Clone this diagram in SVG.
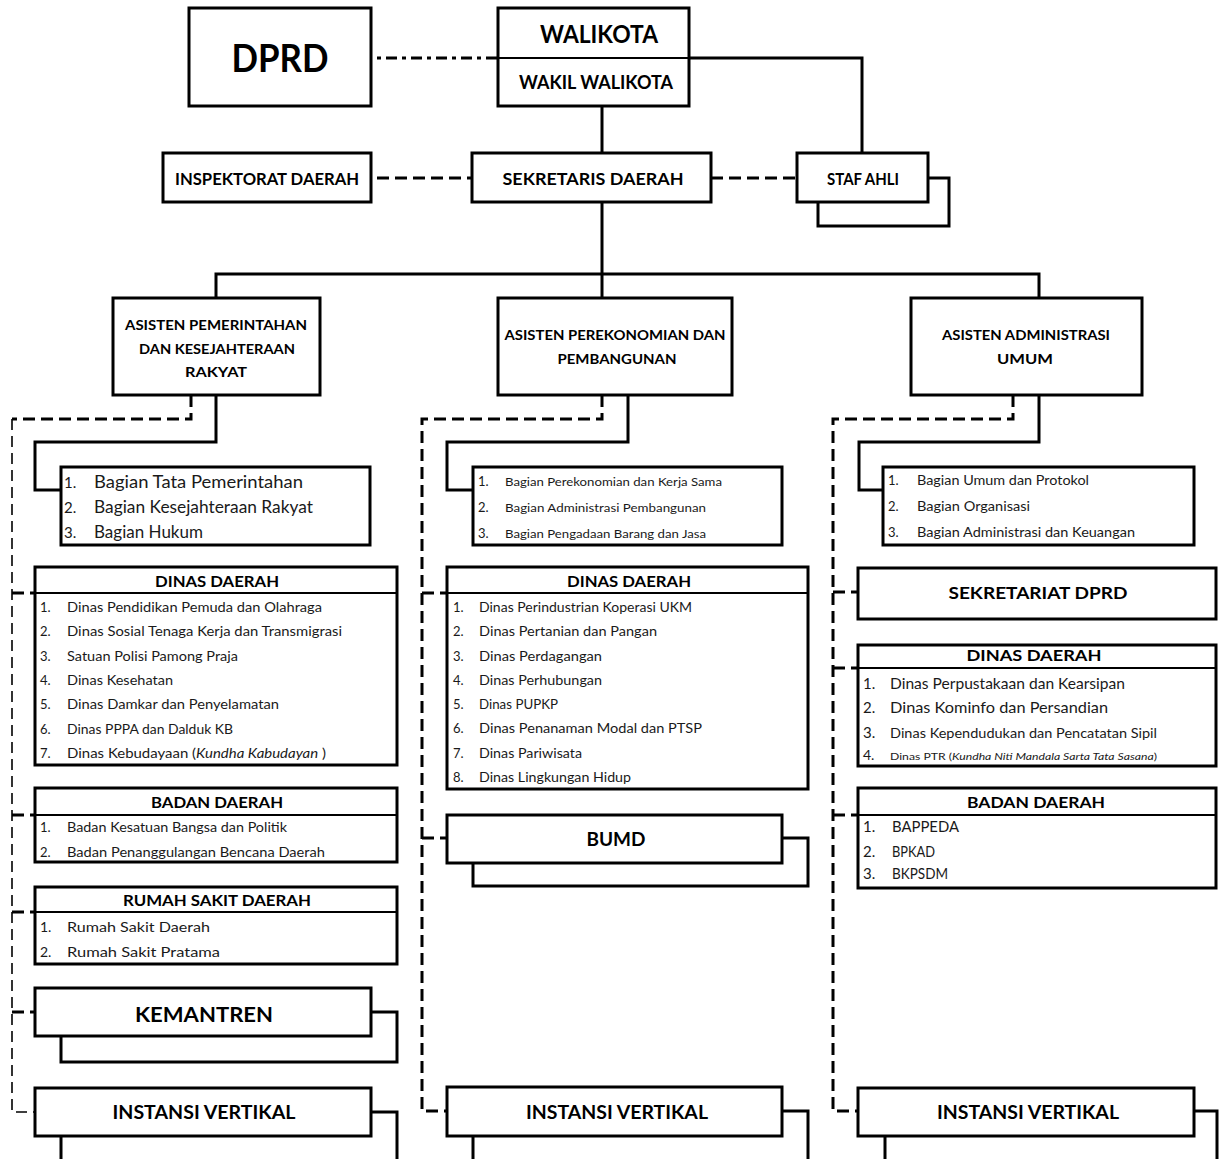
<svg xmlns="http://www.w3.org/2000/svg" width="1219" height="1159" viewBox="0 0 1219 1159">
<style>
.box{fill:#fff;stroke:#000;stroke-width:3}
.sh{fill:none;stroke:#000;stroke-width:3}
.div{stroke:#000;stroke-width:2}
.c{fill:none;stroke:#000;stroke-width:3}
.d{fill:none;stroke:#000;stroke-width:3;stroke-dasharray:12 6}
.dt{fill:none;stroke:#000;stroke-width:1.6;stroke-dasharray:11 6}
.dd{fill:none;stroke:#000;stroke-width:3;stroke-dasharray:4 5 11 5}
text{font-family:Lato,"Liberation Sans",sans-serif;fill:#000}
.b{font-weight:700;text-anchor:middle}
.r{font-weight:400;fill:#1a1a1a}
.i{font-style:italic}
</style>
<rect width="1219" height="1159" fill="#fff"/>
<g id="connectors">
<path class="dd" d="M377,58 H498"/>
<path class="c" d="M602,106 V153"/>
<path class="c" d="M689,58 H862 V153"/>
<path class="d" d="M377,178 H472"/>
<path class="d" d="M711,178 H797"/>
<path class="c" d="M602,202 V298"/>
<path class="c" d="M216,298 V274 H1039 V298"/>
<path class="c" d="M216,395 V442 H35 V490 H61"/>
<path class="d" d="M191,395 V419 H12"/>
<path class="dt" d="M12,419 V1112 H35"/>
<path class="d" d="M12,593 H35 M12,815 H35 M12,912 H35 M12,1012 H35"/>
<path class="c" d="M628,395 V442 H447 V490 H473"/>
<path class="d" d="M602,395 V419 H422 V1111 H447"/>
<path class="d" d="M422,593 H447 M422,838 H447"/>
<path class="c" d="M1039,395 V442 H859 V490 H883"/>
<path class="d" d="M1013,395 V419 H833 V1111 H858"/>
<path class="d" d="M833,592 H858 M833,668 H858 M833,815 H858"/>
</g>
<g id="dprd"><rect class="box" x="189" y="8" width="182" height="98"/><text class="b" x="280" y="72" font-size="38" textLength="97" lengthAdjust="spacingAndGlyphs">DPRD</text></g>
<g id="walikota"><rect class="box" x="498" y="8" width="191" height="98"/><line class="div" x1="498" y1="58" x2="689" y2="58"/>
<text class="b" x="599" y="43" font-size="25" textLength="118" lengthAdjust="spacingAndGlyphs">WALIKOTA</text>
<text class="b" x="596" y="89" font-size="19.5" textLength="154" lengthAdjust="spacingAndGlyphs">WAKIL WALIKOTA</text></g>
<g id="inspektorat"><rect class="box" x="163" y="153" width="208" height="49"/><text class="b" x="267" y="185" font-size="17" textLength="184" lengthAdjust="spacingAndGlyphs">INSPEKTORAT DAERAH</text></g>
<g id="sekda"><rect class="box" x="472" y="153" width="239" height="49"/><text class="b" x="593" y="185" font-size="17" textLength="181" lengthAdjust="spacingAndGlyphs">SEKRETARIS DAERAH</text></g>
<g id="stafahli"><path class="sh" d="M928,178 H949 V226 H818 V202"/><rect class="box" x="797" y="153" width="131" height="49"/><text class="b" x="863" y="185" font-size="17" textLength="72" lengthAdjust="spacingAndGlyphs">STAF AHLI</text></g>

<g id="asisten1"><rect class="box" x="113" y="298" width="207" height="97"/>
<text class="b" x="216" y="330" font-size="12.5" textLength="182" lengthAdjust="spacingAndGlyphs">ASISTEN PEMERINTAHAN</text>
<text class="b" x="217" y="354" font-size="12.5" textLength="156" lengthAdjust="spacingAndGlyphs">DAN KESEJAHTERAAN</text>
<text class="b" x="216" y="377" font-size="12.5" textLength="62" lengthAdjust="spacingAndGlyphs">RAKYAT</text></g>
<g id="asisten2"><rect class="box" x="498" y="298" width="234" height="97"/>
<text class="b" x="615" y="340" font-size="12.5" textLength="221" lengthAdjust="spacingAndGlyphs">ASISTEN PEREKONOMIAN DAN</text>
<text class="b" x="617" y="364" font-size="12.5" textLength="119" lengthAdjust="spacingAndGlyphs">PEMBANGUNAN</text></g>
<g id="asisten3"><rect class="box" x="911" y="298" width="231" height="97"/>
<text class="b" x="1026" y="340" font-size="12.5" textLength="168" lengthAdjust="spacingAndGlyphs">ASISTEN ADMINISTRASI</text>
<text class="b" x="1025" y="364" font-size="12.5" textLength="56" lengthAdjust="spacingAndGlyphs">UMUM</text></g>

<g id="bagian1"><rect class="box" x="61" y="467" width="309" height="78"/>
<text class="r" x="64" y="488" font-size="15">1.</text><text class="r" x="94" y="488" font-size="17" textLength="209" lengthAdjust="spacingAndGlyphs">Bagian Tata Pemerintahan</text>
<text class="r" x="64" y="513" font-size="15">2.</text><text class="r" x="94" y="513" font-size="17" textLength="219" lengthAdjust="spacingAndGlyphs">Bagian Kesejahteraan Rakyat</text>
<text class="r" x="64" y="538" font-size="15">3.</text><text class="r" x="94" y="538" font-size="17" textLength="109" lengthAdjust="spacingAndGlyphs">Bagian Hukum</text></g>
<g id="bagian2"><rect class="box" x="473" y="467" width="309" height="78"/>
<text class="r" x="478" y="486" font-size="13">1.</text><text class="r" x="505" y="486" font-size="11" textLength="217" lengthAdjust="spacingAndGlyphs">Bagian Perekonomian dan Kerja Sama</text>
<text class="r" x="478" y="512" font-size="13">2.</text><text class="r" x="505" y="512" font-size="11" textLength="201" lengthAdjust="spacingAndGlyphs">Bagian Administrasi Pembangunan</text>
<text class="r" x="478" y="538" font-size="13">3.</text><text class="r" x="505" y="538" font-size="11" textLength="201" lengthAdjust="spacingAndGlyphs">Bagian Pengadaan Barang dan Jasa</text></g>
<g id="bagian3"><rect class="box" x="883" y="467" width="311" height="78"/>
<text class="r" x="888" y="485" font-size="13">1.</text><text class="r" x="917" y="485" font-size="12.5" textLength="172" lengthAdjust="spacingAndGlyphs">Bagian Umum dan Protokol</text>
<text class="r" x="888" y="511" font-size="13">2.</text><text class="r" x="917" y="511" font-size="12.5" textLength="113" lengthAdjust="spacingAndGlyphs">Bagian Organisasi</text>
<text class="r" x="888" y="537" font-size="13">3.</text><text class="r" x="917" y="537" font-size="12.5" textLength="218" lengthAdjust="spacingAndGlyphs">Bagian Administrasi dan Keuangan</text></g>

<g id="dinas1"><rect class="box" x="35" y="567" width="362" height="198"/><line class="div" x1="35" y1="593" x2="397" y2="593"/>
<text class="b" x="217" y="587" font-size="14.5" textLength="124" lengthAdjust="spacingAndGlyphs">DINAS DAERAH</text>
<text class="r" x="40" y="612" font-size="13">1.</text><text class="r" x="67" y="612" font-size="13" textLength="255" lengthAdjust="spacingAndGlyphs">Dinas Pendidikan Pemuda dan Olahraga</text>
<text class="r" x="40" y="636" font-size="13">2.</text><text class="r" x="67" y="636" font-size="13" textLength="275" lengthAdjust="spacingAndGlyphs">Dinas Sosial Tenaga Kerja dan Transmigrasi</text>
<text class="r" x="40" y="661" font-size="13">3.</text><text class="r" x="67" y="661" font-size="13" textLength="171" lengthAdjust="spacingAndGlyphs">Satuan Polisi Pamong Praja</text>
<text class="r" x="40" y="685" font-size="13">4.</text><text class="r" x="67" y="685" font-size="13" textLength="106" lengthAdjust="spacingAndGlyphs">Dinas Kesehatan</text>
<text class="r" x="40" y="709" font-size="13">5.</text><text class="r" x="67" y="709" font-size="13" textLength="212" lengthAdjust="spacingAndGlyphs">Dinas Damkar dan Penyelamatan</text>
<text class="r" x="40" y="734" font-size="13">6.</text><text class="r" x="67" y="734" font-size="13" textLength="166" lengthAdjust="spacingAndGlyphs">Dinas PPPA dan Dalduk KB</text>
<text class="r" x="40" y="758" font-size="13">7.</text><text class="r" x="67" y="758" font-size="13" textLength="259" lengthAdjust="spacingAndGlyphs">Dinas Kebudayaan (<tspan class="i">Kundha Kabudayan</tspan> )</text></g>
<g id="badan1"><rect class="box" x="35" y="788" width="362" height="74"/><line class="div" x1="35" y1="815" x2="397" y2="815"/>
<text class="b" x="217" y="808" font-size="15" textLength="132" lengthAdjust="spacingAndGlyphs">BADAN DAERAH</text>
<text class="r" x="40" y="832" font-size="13">1.</text><text class="r" x="67" y="832" font-size="13" textLength="220" lengthAdjust="spacingAndGlyphs">Badan Kesatuan Bangsa dan Politik</text>
<text class="r" x="40" y="857" font-size="13">2.</text><text class="r" x="67" y="857" font-size="13" textLength="258" lengthAdjust="spacingAndGlyphs">Badan Penanggulangan Bencana Daerah</text></g>
<g id="rumahsakit"><rect class="box" x="35" y="887" width="362" height="77"/><line class="div" x1="35" y1="912" x2="397" y2="912"/>
<text class="b" x="217" y="906" font-size="15" textLength="188" lengthAdjust="spacingAndGlyphs">RUMAH SAKIT DAERAH</text>
<text class="r" x="40" y="932" font-size="14">1.</text><text class="r" x="67" y="932" font-size="14" textLength="143" lengthAdjust="spacingAndGlyphs">Rumah Sakit Daerah</text>
<text class="r" x="40" y="957" font-size="14">2.</text><text class="r" x="67" y="957" font-size="14" textLength="153" lengthAdjust="spacingAndGlyphs">Rumah Sakit Pratama</text></g>
<g id="kemantren"><path class="sh" d="M371,1012 H397 V1062 H61 V1036"/><rect class="box" x="35" y="988" width="336" height="48"/>
<text class="b" x="204" y="1022" font-size="21" textLength="138" lengthAdjust="spacingAndGlyphs">KEMANTREN</text></g>
<g id="instansi1"><path class="sh" d="M371,1112 H397 V1170 H61 V1136"/><rect class="box" x="35" y="1088" width="336" height="48"/>
<text class="b" x="204" y="1119" font-size="18" textLength="183" lengthAdjust="spacingAndGlyphs">INSTANSI VERTIKAL</text></g>

<g id="dinas2"><rect class="box" x="447" y="567" width="361" height="222"/><line class="div" x1="447" y1="593" x2="808" y2="593"/>
<text class="b" x="629" y="587" font-size="14.5" textLength="124" lengthAdjust="spacingAndGlyphs">DINAS DAERAH</text>
<text class="r" x="453" y="612" font-size="13">1.</text><text class="r" x="479" y="612" font-size="13" textLength="213" lengthAdjust="spacingAndGlyphs">Dinas Perindustrian Koperasi UKM</text>
<text class="r" x="453" y="636" font-size="13">2.</text><text class="r" x="479" y="636" font-size="13" textLength="178" lengthAdjust="spacingAndGlyphs">Dinas Pertanian dan Pangan</text>
<text class="r" x="453" y="661" font-size="13">3.</text><text class="r" x="479" y="661" font-size="13" textLength="123" lengthAdjust="spacingAndGlyphs">Dinas Perdagangan</text>
<text class="r" x="453" y="685" font-size="13">4.</text><text class="r" x="479" y="685" font-size="13" textLength="123" lengthAdjust="spacingAndGlyphs">Dinas Perhubungan</text>
<text class="r" x="453" y="709" font-size="13">5.</text><text class="r" x="479" y="709" font-size="13" textLength="79" lengthAdjust="spacingAndGlyphs">Dinas PUPKP</text>
<text class="r" x="453" y="733" font-size="13">6.</text><text class="r" x="479" y="733" font-size="13" textLength="223" lengthAdjust="spacingAndGlyphs">Dinas Penanaman Modal dan PTSP</text>
<text class="r" x="453" y="758" font-size="13">7.</text><text class="r" x="479" y="758" font-size="13" textLength="103" lengthAdjust="spacingAndGlyphs">Dinas Pariwisata</text>
<text class="r" x="453" y="782" font-size="13">8.</text><text class="r" x="479" y="782" font-size="13" textLength="152" lengthAdjust="spacingAndGlyphs">Dinas Lingkungan Hidup</text></g>
<g id="bumd"><path class="sh" d="M782,838 H808 V886 H473 V863"/><rect class="box" x="447" y="815" width="335" height="48"/>
<text class="b" x="616" y="846" font-size="19" textLength="59" lengthAdjust="spacingAndGlyphs">BUMD</text></g>
<g id="instansi2"><path class="sh" d="M782,1111 H808 V1170 H473 V1136"/><rect class="box" x="447" y="1087" width="335" height="49"/>
<text class="b" x="617" y="1119" font-size="18" textLength="182" lengthAdjust="spacingAndGlyphs">INSTANSI VERTIKAL</text></g>

<g id="sekretariat"><rect class="box" x="858" y="568" width="358" height="51"/>
<text class="b" x="1038" y="599" font-size="17" textLength="179" lengthAdjust="spacingAndGlyphs">SEKRETARIAT DPRD</text></g>
<g id="dinas3"><rect class="box" x="858" y="645" width="358" height="121"/><line class="div" x1="858" y1="668" x2="1216" y2="668"/>
<text class="b" x="1034" y="661" font-size="16" textLength="135" lengthAdjust="spacingAndGlyphs">DINAS DAERAH</text>
<text class="r" x="863" y="689" font-size="15">1.</text><text class="r" x="890" y="689" font-size="15" textLength="235" lengthAdjust="spacingAndGlyphs">Dinas Perpustakaan dan Kearsipan</text>
<text class="r" x="863" y="713" font-size="15">2.</text><text class="r" x="890" y="713" font-size="15" textLength="218" lengthAdjust="spacingAndGlyphs">Dinas Kominfo dan Persandian</text>
<text class="r" x="863" y="738" font-size="15">3.</text><text class="r" x="890" y="738" font-size="14" textLength="267" lengthAdjust="spacingAndGlyphs">Dinas Kependudukan dan Pencatatan Sipil</text>
<text class="r" x="863" y="760" font-size="14">4.</text><text class="r" x="890" y="760" font-size="10" textLength="267" lengthAdjust="spacingAndGlyphs">Dinas PTR (<tspan class="i">Kundha Niti Mandala Sarta Tata Sasana</tspan>)</text></g>
<g id="badan3"><rect class="box" x="858" y="788" width="358" height="100"/><line class="div" x1="858" y1="815" x2="1216" y2="815"/>
<text class="b" x="1036" y="808" font-size="16" textLength="138" lengthAdjust="spacingAndGlyphs">BADAN DAERAH</text>
<text class="r" x="863" y="832" font-size="15">1.</text><text class="r" x="892" y="832" font-size="15" textLength="67" lengthAdjust="spacingAndGlyphs">BAPPEDA</text>
<text class="r" x="863" y="857" font-size="15">2.</text><text class="r" x="892" y="857" font-size="15" textLength="43" lengthAdjust="spacingAndGlyphs">BPKAD</text>
<text class="r" x="863" y="879" font-size="15">3.</text><text class="r" x="892" y="879" font-size="15" textLength="56" lengthAdjust="spacingAndGlyphs">BKPSDM</text></g>
<g id="instansi3"><path class="sh" d="M1194,1111 H1217 V1170 H885 V1136"/><rect class="box" x="858" y="1088" width="336" height="48"/>
<text class="b" x="1028" y="1119" font-size="18" textLength="182" lengthAdjust="spacingAndGlyphs">INSTANSI VERTIKAL</text></g>
</svg>
